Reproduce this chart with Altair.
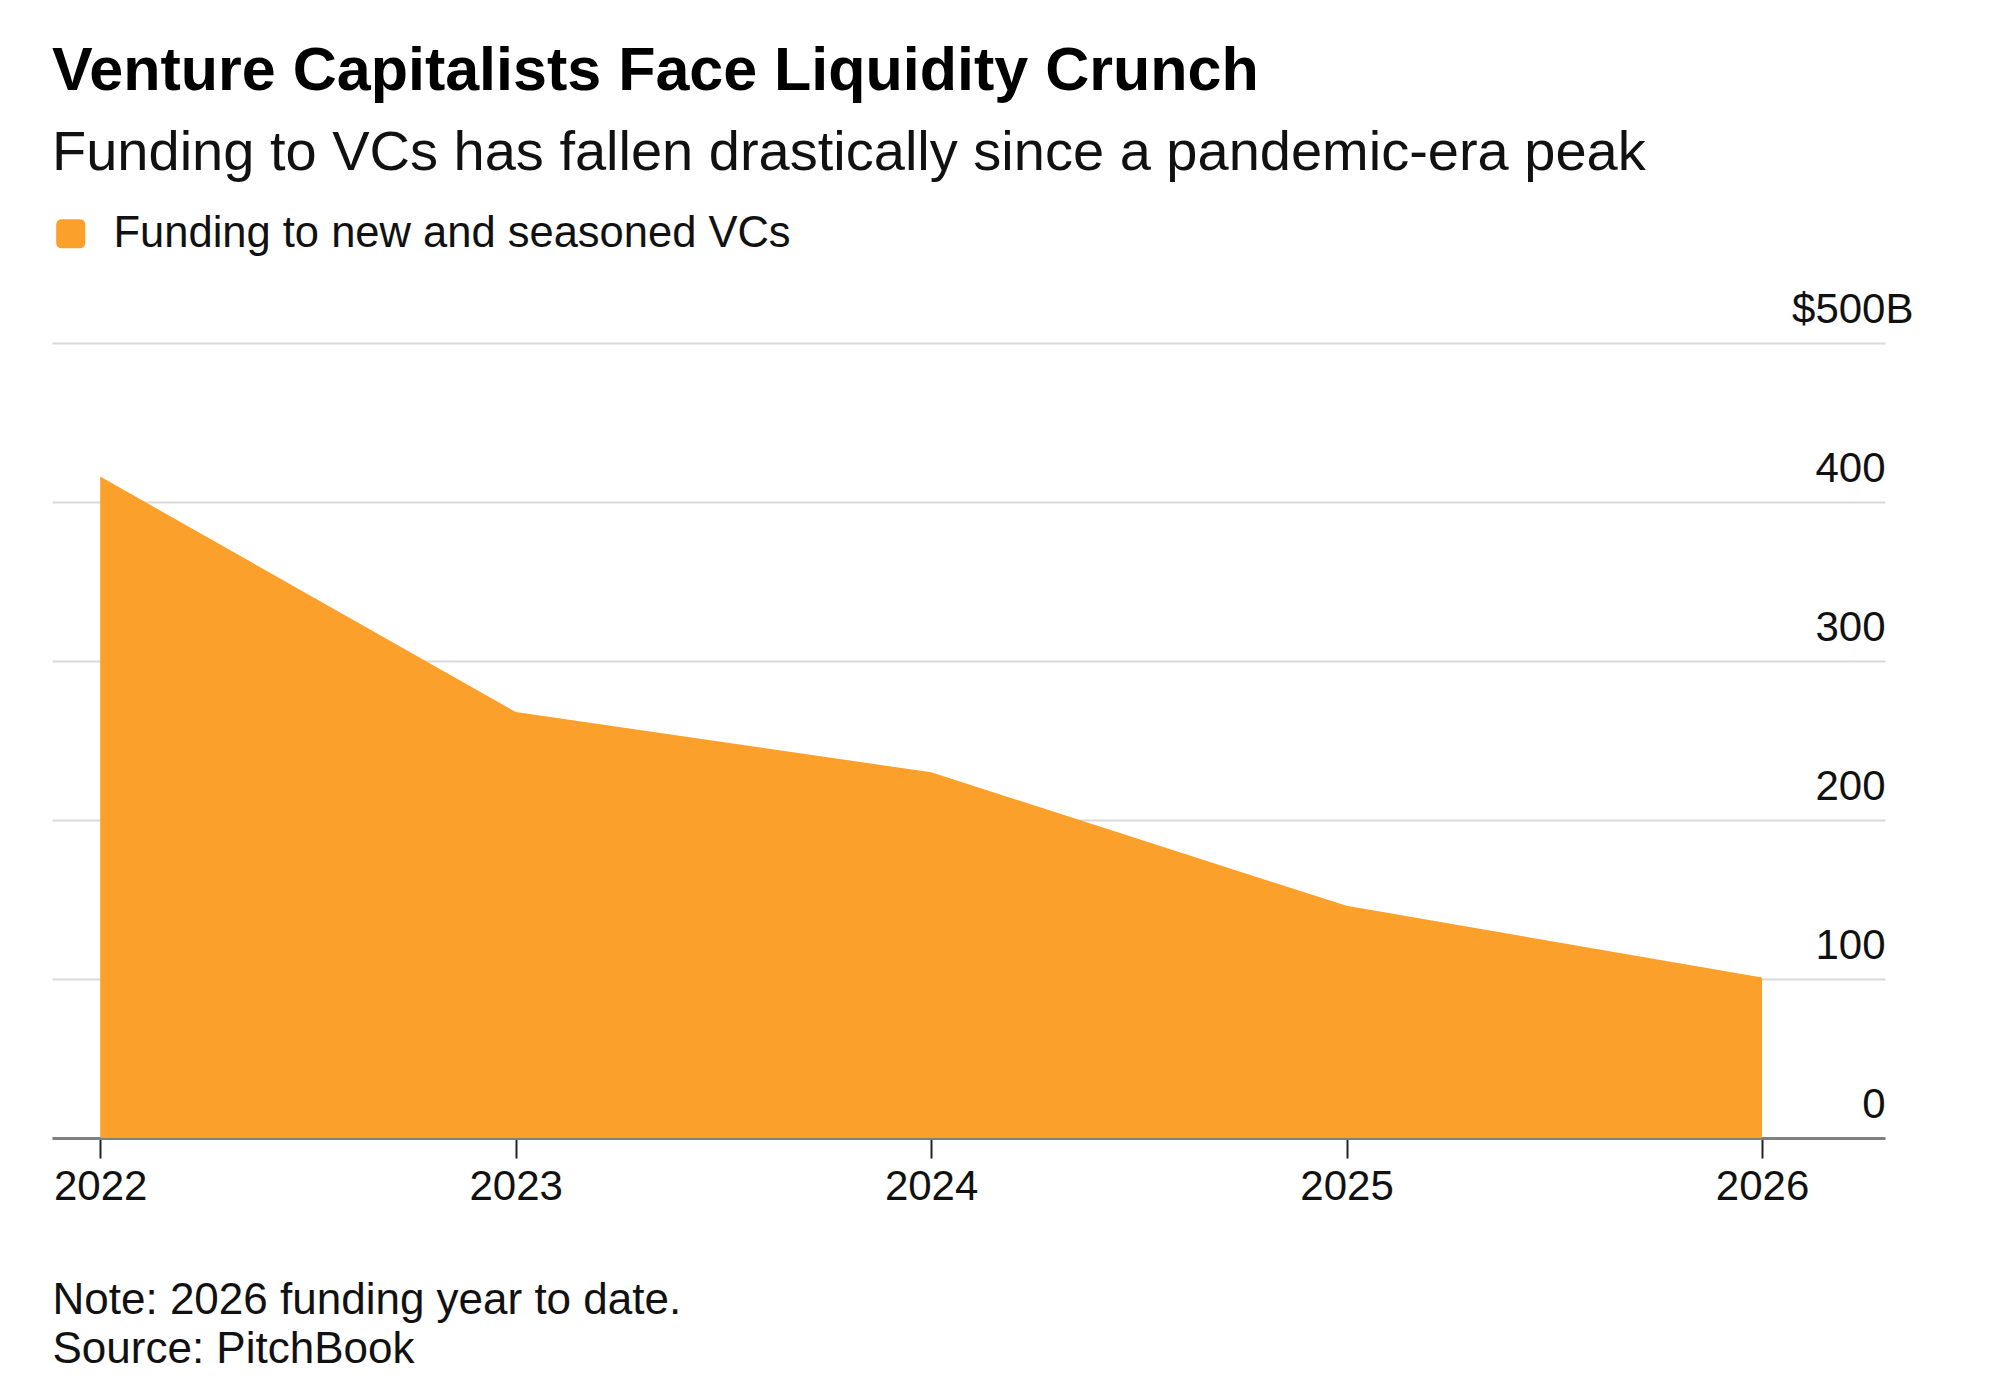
import altair as alt
import pandas as pd

# PitchBook, funding to new and seasoned VCs, $B (2026 is year to date)
years = [2022, 2023, 2024, 2025, 2026]
funding = [416, 268, 230, 146, 101]
series_name = "Funding to new and seasoned VCs"

y_ticks = [0, 100, 200, 300, 400, 500]

title = "Venture Capitalists Face Liquidity Crunch"
subtitle = "Funding to VCs has fallen drastically since a pandemic-era peak"
footnote = ["Note: 2026 funding year to date.", "Source: PitchBook"]

FONT = "Liberation Sans"
ORANGE = "#fca02c"
INK = "#111111"

# square with rounded corners for the legend swatch
rounded_square = "M-0.6,-1H0.6Q1,-1 1,-0.6V0.6Q1,1 0.6,1H-0.6Q-1,1 -1,0.6V-0.6Q-1,-1 -0.6,-1Z"

df = pd.DataFrame({"year": years, "funding": funding, "series": [series_name] * len(years)})

x_axis = alt.Axis(
    values=years,
    format="d",
    grid=False,
    domainColor="#808080",
    domainWidth=3,
    tickColor="#222222",
    tickWidth=2,
    tickSize=20,
    labelFont=FONT,
    labelFontSize=42,
    labelColor=INK,
    labelPadding=8,
    title=footnote,
    titleX=0,
    titleY=175,
    titleAnchor="start",
    titleAlign="left",
    titleBaseline="alphabetic",
    titleFont=FONT,
    titleFontSize=44,
    titleFontWeight="normal",
    titleLineHeight=49,
    titleColor=INK,
)

y_axis = alt.Axis(
    orient="right",
    values=y_ticks,
    grid=True,
    gridColor="#d9d9d9",
    gridWidth=2,
    domain=False,
    ticks=False,
    labelAlign="right",
    labelBaseline="alphabetic",
    labelOffset=-21,
    labelPadding={"condition": {"test": "datum.value == 500", "value": 28}, "value": 0},
    labelExpr="datum.value == 500 ? '$500B' : datum.label",
    labelFont=FONT,
    labelFontSize=42,
    labelColor=INK,
    title=None,
)

legend = alt.Legend(
    orient="none",
    legendX=-3,
    legendY=-131,
    title=None,
    padding=0,
    symbolType=rounded_square,
    symbolSize=850,
    symbolStrokeWidth=0,
    symbolOpacity=1,
    labelFont=FONT,
    labelFontSize=43.5,
    labelColor=INK,
    labelOffset=21,
    labelLimit=1200,
)

chart = (
    alt.Chart(df)
    .mark_area(opacity=1)
    .encode(
        x=alt.X("year:Q", scale=alt.Scale(domain=[2021.884, 2026.296], nice=False, zero=False), axis=x_axis),
        y=alt.Y("funding:Q", scale=alt.Scale(domain=[0, 500], nice=False), axis=y_axis),
        color=alt.Color("series:N", scale=alt.Scale(range=[ORANGE]), legend=legend),
    )
    .properties(
        width=1833,
        height=795,
        padding={"left": 44, "top": 335, "right": 107, "bottom": 240},
        autosize=alt.AutoSizeParams(type="none"),
        title=alt.TitleParams(
            text=title,
            subtitle=subtitle,
            anchor="start",
            frame="group",
            font=FONT,
            fontSize=61,
            fontWeight="bold",
            color="#000000",
            subtitleFont=FONT,
            subtitleFontSize=56,
            subtitleColor=INK,
            subtitlePadding=23,
            offset=30,
        ),
    )
    .configure_view(strokeWidth=0)
)

chart.save("out.html", embed_options={"renderer": "svg", "actions": False})
